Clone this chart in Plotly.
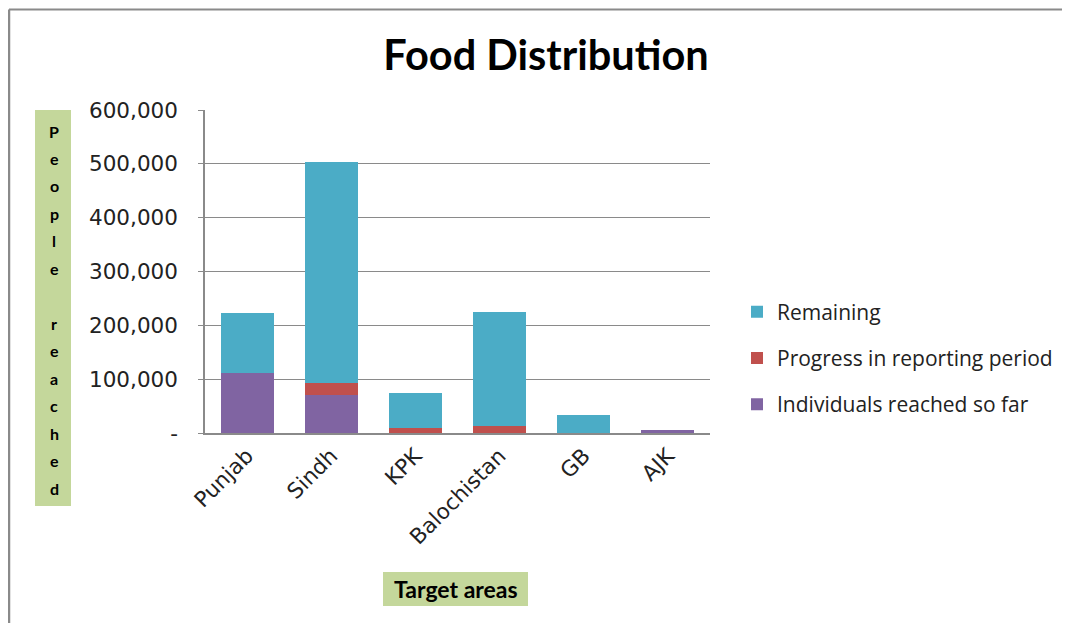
import plotly.graph_objects as go

categories = ["Punjab", "Sindh", "KPK", "Balochistan", "GB", "AJK"]
reached_so_far = [111000, 70000, 0, 0, 0, 6000]
progress_period = [0, 22000, 8500, 12500, 0, 0]
remaining = [111000, 411000, 66500, 212000, 33000, 0]
y_tick_vals = [0, 100000, 200000, 300000, 400000, 500000, 600000]
y_tick_text = ["-", "100,000", "200,000", "300,000", "400,000", "500,000", "600,000"]
y_title = "People reached"
x_title = "Target areas"
chart_title = "Food Distribution"

FONT = "Lato, Open Sans, sans-serif"
TICKFONT = "DejaVu Sans, Verdana, sans-serif"

# Plot area in page pixels (page has an 8px body offset)
PX0, PX1, PY0, PY1 = 205, 710, 110, 433
OFF = 8
W, H = PX1 - PX0, PY1 - PY0


def px(x):
    return (x - PX0) / W


def py(y):
    return (PY1 - y) / H


fig = go.Figure()
fig.add_trace(go.Bar(x=categories, y=reached_so_far, name="Individuals reached so far",
                     marker=dict(color="#8064A2", line=dict(width=0)), legendgroup="a", legendrank=3))
fig.add_trace(go.Bar(x=categories, y=progress_period, name="Progress in reporting period",
                     marker=dict(color="#C0504D", line=dict(width=0)), legendgroup="b", legendrank=2))
fig.add_trace(go.Bar(x=categories, y=remaining, name="Remaining",
                     marker=dict(color="#4BACC6", line=dict(width=0)), legendgroup="c", legendrank=1))

fig.update_layout(
    width=1070, height=623,
    barmode="stack", bargap=0.37,
    paper_bgcolor="white", plot_bgcolor="white",
    margin=dict(l=PX0 - OFF, r=1070 - (PX1 - OFF), t=PY0 - OFF, b=623 - (PY1 - OFF)),
    font=dict(family=FONT, color="#222"),
    title=dict(text="<b>" + chart_title + "</b>", x=(546 - OFF) / 1070, xref="container", xanchor="center",
               y=1 - (55 - OFF) / 623, yref="container", yanchor="middle",
               font=dict(size=41.5, color="black", family=FONT)),
    xaxis=dict(showgrid=False, showline=True, linecolor="#8a8a8a", linewidth=1.5,
               tickangle=-45, tickfont=dict(size=21.5, color="#222", family=TICKFONT), ticks=""),
    yaxis=dict(range=[0, 600000], tickvals=y_tick_vals, ticktext=y_tick_text,
               showgrid=True, gridcolor="#8a8a8a", gridwidth=1.2,
               showline=True, linecolor="#8a8a8a", linewidth=1.5,
               ticks="outside", ticklen=5, tickcolor="#8a8a8a",
               tickfont=dict(size=21.5, color="#222", family=TICKFONT), ticklabelstandoff=16,
               zeroline=False),
    legend=dict(x=px(737), y=py(358), xanchor="left", yanchor="middle",
                traceorder="grouped",
                font=dict(size=21, color="#222", family="Open Sans, sans-serif"),
                tracegroupgap=16, bgcolor="rgba(0,0,0,0)"),
    showlegend=True,
)

# y-axis title box with stacked letters
fig.add_shape(type="rect", xref="paper", yref="paper", x0=px(35), x1=px(71), y0=py(506), y1=py(110),
              fillcolor="#C4D79B", line=dict(width=0), layer="below")
letters = list(y_title)
step = (488 - 131) / (len(letters) - 1)
for i, ch in enumerate(letters):
    if ch.strip():
        fig.add_annotation(xref="paper", yref="paper", x=px(54), y=py(131 + i * step),
                           xanchor="center", yanchor="middle", text="<b>" + ch + "</b>",
                           showarrow=False, font=dict(size=16, color="black", family=FONT))

# x-axis title box
fig.add_shape(type="rect", xref="paper", yref="paper", x0=px(383), x1=px(528), y0=py(606), y1=py(572),
              fillcolor="#C4D79B", line=dict(width=0), layer="below")
fig.add_annotation(xref="paper", yref="paper", x=px(456), y=py(589), xanchor="center", yanchor="middle",
                   text="<b>" + x_title + "</b>", showarrow=False,
                   font=dict(size=23, color="black", family=FONT))

# outer frame lines
fig.add_shape(type="line", xref="paper", yref="paper", x0=px(9), x1=px(1090), y0=py(9.5), y1=py(9.5),
              line=dict(color="#8a8a8a", width=2))
fig.add_shape(type="line", xref="paper", yref="paper", x0=px(9), x1=px(9), y0=py(9.5), y1=py(650),
              line=dict(color="#8a8a8a", width=2.5))

fig.write_html("out.html")
